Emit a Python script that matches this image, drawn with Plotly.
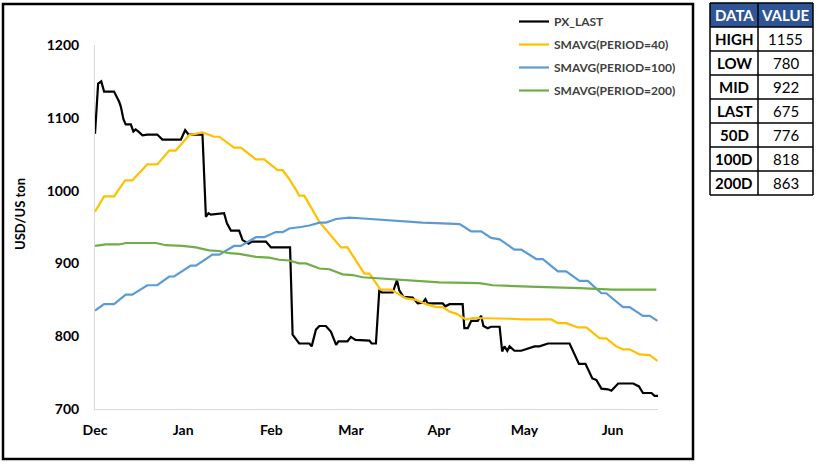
import pandas as pd
import plotly.graph_objs as go

start = pd.Timestamp("2022-12-01")

# days after start, value (USD/US ton)
px_days = [0, 1.1, 2.2, 3.2, 6.7, 8.5, 9.1, 10.0, 10.8, 12.6, 13.5, 14.3, 15.3, 16.7, 18.4, 21.9,
           23.7, 30.2, 31.7, 32.9, 37.8, 39.0, 39.9, 40.7, 45.4, 46.4, 47.8, 50.7, 51.9, 54.0, 55.2,
           60.1, 61.9, 68.6, 69.5, 71.8, 75.4, 76.2, 77.7, 78.9, 81.2, 83.0, 83.9, 84.8, 85.6, 88.8,
           90.0, 91.6, 96.5, 97.3, 98.8, 100.0, 100.8, 104.7, 106.2, 107.0, 108.5, 111.7, 113.5,
           115.3, 116.2, 117.0, 122.3, 123.2, 124.7, 129.3, 129.9, 131.1, 132.3, 134.6, 135.8, 136.6,
           138.1, 139.3, 142.3, 143.2, 144.0, 145.0, 145.8, 147.5, 149.9, 151.7, 154.6, 156.3, 159.3,
           166.9, 168.7, 170.2, 172.5, 174.9, 176.3, 178.1, 180.4, 181.6, 184.0, 189.3, 191.3, 192.7,
           195.7, 196.8, 198.0]
px_last = [1078, 1147, 1150, 1136, 1136, 1122, 1115, 1098, 1091, 1091, 1081, 1084, 1081, 1076, 1077, 1077,
           1070, 1070, 1083, 1077, 1077, 964, 969, 967, 969, 955, 945, 945, 932, 927, 930,
           930, 922, 922, 802, 790, 790, 786, 809, 814, 814, 806, 797, 788, 793, 793,
           799, 795, 794, 790, 790, 864, 860, 860, 877, 863, 854, 853, 845,
           846, 851, 845, 845, 841, 844, 844, 811, 811, 821, 821, 828, 814,
           811, 813, 813, 779, 786, 780, 786, 780, 780, 782, 786, 786, 790,
           790, 774, 762, 762, 742, 740, 728, 727, 725, 735, 735, 731, 722,
           722, 718, 718]

ma40_days = [0, 3.2, 6.7, 10.6, 13.1, 18.4, 21.9, 26.1, 28.4, 33.1, 37.8, 41.9, 43.7, 48.9, 51.3, 56.6,
             59.5, 64.2, 66.0, 68.1, 70.7, 71.8, 73.6, 78.9, 86.5, 88.8, 94.7, 96.5, 100.4, 104.1,
             109.4, 112.9, 116.4, 120.0, 122.3, 124.6, 127.0, 129.3, 130.5, 132.8, 143.4, 145.8,
             150.5, 160.5, 162.8, 165.7, 169.8, 172.8, 177.5, 179.8, 183.3, 185.7, 188.0, 191.5,
             195.1, 197.8]
ma40 = [971, 992, 992, 1014, 1014, 1036, 1036, 1055, 1055, 1076, 1080, 1074, 1074, 1059, 1059, 1043,
        1043, 1028, 1028, 1017, 1001, 993, 993, 957, 922, 922, 886, 886, 864, 864,
        852, 850, 844, 840, 840, 834, 831, 825, 823, 825, 825, 824,
        823, 823, 818, 818, 812, 812, 797, 797, 786, 782, 782, 775,
        774, 766]

ma100_days = [0, 3.2, 6.7, 10.8, 13.1, 18.4, 21.9, 26.1, 27.8, 33.7, 35.5, 41.3, 43.7, 48.9, 51.3, 56.6,
              59.5, 63.6, 66.0, 68.3, 72.4, 75.4, 78.9, 81.2, 84.8, 89.4, 93.0, 96.5, 102.4, 105.9,
              111.7, 115.2, 122.3, 128.2, 129.9, 132.3, 135.8, 139.3, 142.3, 147.5, 149.9, 155.2,
              157.5, 162.8, 165.7, 170.4, 173.3, 178.1, 179.8, 185.7, 188.0, 192.7, 195.1, 197.8]
ma100 = [835, 844, 844, 857, 857, 870, 870, 882, 882, 897, 897, 912, 912, 924, 924, 936,
         936, 943, 943, 948, 950, 952, 956, 956, 961, 963, 962, 961, 960, 958,
         957, 956, 955, 954, 950, 944, 944, 935, 933, 919, 919, 906,
         906, 889, 889, 876, 876, 859, 859, 840, 840, 828, 828, 821]

ma200_days = [0, 3.8, 8.5, 10.8, 21.4, 24.9, 30.7, 35.5, 40.1, 43.7, 47.2, 50.7, 56.6, 61.3, 64.8, 68.3,
              71.8, 74.2, 78.9, 82.4, 87.1, 90.6, 94.1, 97.6, 107.0, 114.1, 121.1, 135.2, 139.9,
              152.8, 168.1, 170.4, 182.1, 184.5, 197.4]
ma200 = [924, 926, 926, 928, 928, 925, 924, 922, 918, 917, 914, 913, 909, 908, 905, 904,
         900, 900, 893, 892, 885, 884, 881, 880, 878, 876, 874, 873, 870,
         868, 867, 866, 864, 864, 864]

table_labels = ["HIGH", "LOW", "MID", "LAST", "50D", "100D", "200D"]
table_values = [1155, 780, 922, 675, 776, 818, 863]


def to_dates(days):
    return start + pd.to_timedelta(days, unit="D")


W, H = 818, 464
FONT = "Lato"


# page pixels -> paper fractions
def fx(px):
    return px / W


def fy(py):
    return (H - py) / H


fig = go.Figure()
series = [
    ("PX_LAST", px_days, px_last, "#000000"),
    ("SMAVG(PERIOD=40)", ma40_days, ma40, "#FFC000"),
    ("SMAVG(PERIOD=100)", ma100_days, ma100, "#5B9BD5"),
    ("SMAVG(PERIOD=200)", ma200_days, ma200, "#70AD47"),
]
for name, d, v, c in series:
    fig.add_trace(go.Scatter(x=to_dates(d), y=v, mode="lines", name=name, legendgroup=name,
                             line=dict(color=c, width=2.2)))

# chart frame
shapes = [dict(type="rect", xref="paper", yref="paper", x0=fx(3), x1=fx(693), y0=fy(459), y1=fy(4),
               line=dict(color="black", width=2.5))]
annotations = [dict(text="<b>USD/US ton</b>", xref="paper", yref="paper", x=fx(20), y=fy(214),
                    xanchor="center", yanchor="middle", textangle=-90, showarrow=False,
                    font=dict(size=13))]

# data table on the right, drawn with shapes + text
tx0, tx1, tx2 = 710, 758, 813
ty0, row_h = 3, 24
n_rows = len(table_labels) + 1
shapes.append(dict(type="rect", xref="paper", yref="paper", x0=fx(tx0), x1=fx(tx2), y0=fy(ty0 + row_h),
                   y1=fy(ty0), fillcolor="#2F5597", line=dict(width=0), layer="below"))
for i in range(n_rows + 1):
    shapes.append(dict(type="line", xref="paper", yref="paper", x0=fx(tx0), x1=fx(tx2),
                       y0=fy(ty0 + i * row_h), y1=fy(ty0 + i * row_h), line=dict(color="black", width=1.5)))
for xx in (tx0, tx1, tx2):
    shapes.append(dict(type="line", xref="paper", yref="paper", x0=fx(xx), x1=fx(xx),
                       y0=fy(ty0), y1=fy(ty0 + n_rows * row_h), line=dict(color="black", width=1.5)))

cells = [("<b>DATA</b>", "<b>VALUE</b>", "white")] + \
        [("<b>%s</b>" % lab, str(val), "black") for lab, val in zip(table_labels, table_values)]
for i, (a, b, col) in enumerate(cells):
    yc = fy(ty0 + (i + 0.5) * row_h)
    for text, xc in ((a, (tx0 + tx1) / 2), (b, (tx1 + tx2) / 2)):
        annotations.append(dict(text=text, xref="paper", yref="paper", x=fx(xc), y=yc,
                                xanchor="center", yanchor="middle", showarrow=False,
                                font=dict(size=15, color=col)))

x0, x1 = 95, 658
y0, y1 = 409, 45
fig.update_layout(
    width=W, height=H,
    margin=dict(l=0, r=0, t=0, b=0),
    paper_bgcolor="white", plot_bgcolor="white",
    font=dict(family=FONT, color="black"),
    xaxis=dict(domain=[fx(x0), fx(x1)], type="date",
               range=[start, to_dates(198)], dtick="M1", tick0="2022-12-01", tickformat="%b",
               showgrid=False, showline=True, linecolor="#D9D9D9", linewidth=1, ticks="",
               tickfont=dict(size=14, weight="bold"), ticklabelstandoff=8, automargin=False),
    yaxis=dict(domain=[fy(y0), fy(y1)], range=[700, 1200], dtick=100,
               showgrid=False, showline=True, linecolor="#D9D9D9", linewidth=1, ticks="",
               tickfont=dict(size=14, weight="bold"), ticklabelstandoff=12, automargin=False,
               zeroline=False),
    legend=dict(x=fx(514), y=fy(7), xanchor="left", yanchor="top", bgcolor="rgba(0,0,0,0)",
                font=dict(size=12, color="#404040", weight="bold"), tracegroupgap=4,
                traceorder="grouped"),
    annotations=annotations,
    shapes=shapes,
)

# drop the default 8px body margin so the figure sits at the page corner
fig.write_html("out.html", config={"displayModeBar": False},
               post_script="document.body.style.margin='0px';")
